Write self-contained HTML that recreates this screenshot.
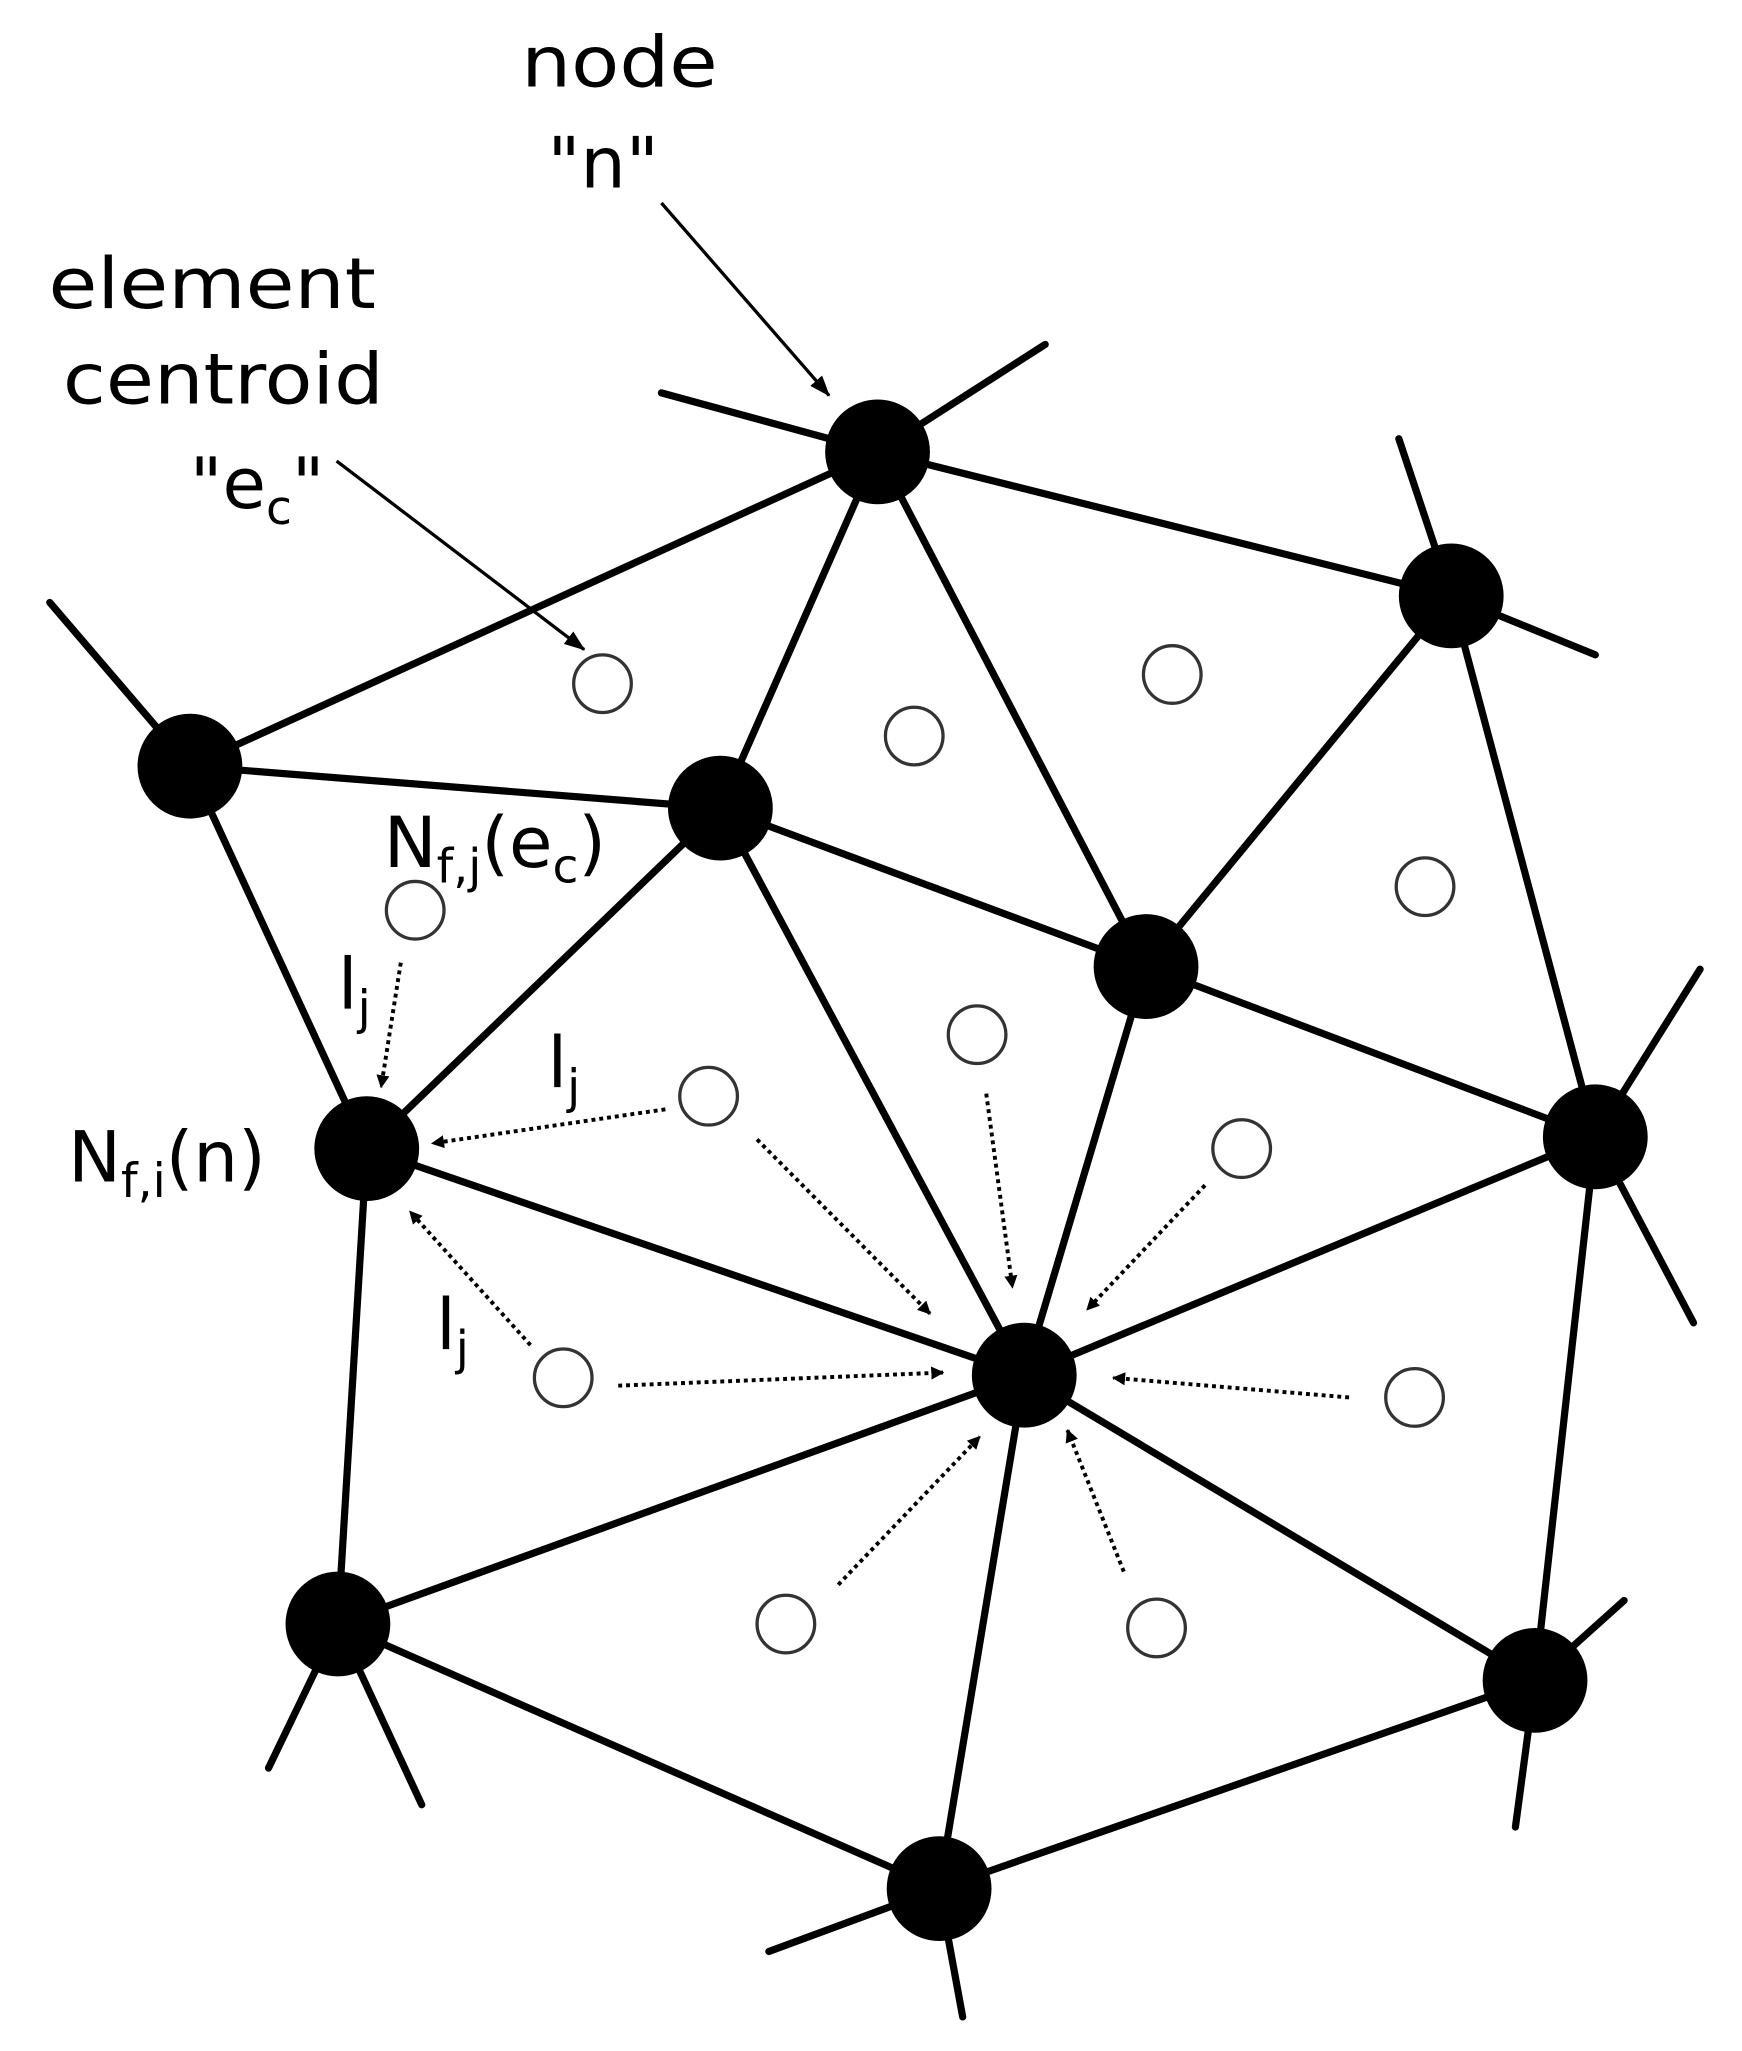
<!DOCTYPE html>
<html><head><style>html,body{margin:0;padding:0;background:#fff}svg{display:block}</style></head><body>
<svg width="1742" height="2051" viewBox="0 0 1330 1566" preserveAspectRatio="none" xmlns="http://www.w3.org/2000/svg" font-family="'DejaVu Sans','Liberation Sans',sans-serif" fill="#000">
<defs>
<marker id="a" markerWidth="10" markerHeight="10" refX="9" refY="5" orient="auto" markerUnits="userSpaceOnUse"><path d="M0,0 L10,5 L0,10 z" fill="#000"/></marker>
<marker id="b" markerWidth="16" markerHeight="12" refX="15" refY="6" orient="auto" markerUnits="userSpaceOnUse"><path d="M0,0 L16,6 L0,12 z" fill="#000"/></marker>
</defs>
<g stroke="#000" stroke-width="5.5" stroke-linecap="round">
<line x1="145" y1="585" x2="670" y2="345"/>
<line x1="670" y1="345" x2="550" y2="617"/>
<line x1="670" y1="345" x2="875" y2="738"/>
<line x1="670" y1="345" x2="1108" y2="455"/>
<line x1="145" y1="585" x2="550" y2="617"/>
<line x1="145" y1="585" x2="280" y2="877"/>
<line x1="550" y1="617" x2="280" y2="877"/>
<line x1="550" y1="617" x2="782" y2="1050"/>
<line x1="550" y1="617" x2="875" y2="738"/>
<line x1="875" y1="738" x2="1108" y2="455"/>
<line x1="875" y1="738" x2="782" y2="1050"/>
<line x1="875" y1="738" x2="1218" y2="868"/>
<line x1="1108" y1="455" x2="1218" y2="868"/>
<line x1="280" y1="877" x2="782" y2="1050"/>
<line x1="280" y1="877" x2="258" y2="1240"/>
<line x1="258" y1="1240" x2="782" y2="1050"/>
<line x1="782" y1="1050" x2="1218" y2="868"/>
<line x1="782" y1="1050" x2="1172" y2="1283"/>
<line x1="782" y1="1050" x2="717" y2="1442"/>
<line x1="1218" y1="868" x2="1172" y2="1283"/>
<line x1="258" y1="1240" x2="717" y2="1442"/>
<line x1="717" y1="1442" x2="1172" y2="1283"/>
<line x1="505" y1="300" x2="670" y2="345"/>
<line x1="670" y1="345" x2="798" y2="263"/>
<line x1="1068" y1="335" x2="1108" y2="455"/>
<line x1="1108" y1="455" x2="1218" y2="500"/>
<line x1="38" y1="460" x2="145" y2="585"/>
<line x1="1298" y1="740" x2="1218" y2="868"/>
<line x1="1218" y1="868" x2="1293" y2="1010"/>
<line x1="258" y1="1240" x2="205" y2="1350"/>
<line x1="258" y1="1240" x2="322" y2="1378"/>
<line x1="1172" y1="1283" x2="1240" y2="1222"/>
<line x1="1172" y1="1283" x2="1157" y2="1395"/>
<line x1="717" y1="1442" x2="587" y2="1490"/>
<line x1="717" y1="1442" x2="735" y2="1540"/>
</g>
<g>
<circle cx="670" cy="345" r="40"/><circle cx="1108" cy="455" r="40"/><circle cx="145" cy="585" r="40"/>
<circle cx="550" cy="617" r="40"/><circle cx="875" cy="738" r="40"/><circle cx="1218" cy="868" r="40"/>
<circle cx="280" cy="877" r="40"/><circle cx="782" cy="1050" r="40"/><circle cx="258" cy="1240" r="40"/>
<circle cx="1172" cy="1283" r="40"/><circle cx="717" cy="1442" r="40"/>
</g>
<g fill="#fff" stroke="#333" stroke-width="2.5">
<circle cx="460" cy="522" r="22"/><circle cx="698" cy="562" r="22"/><circle cx="895" cy="515" r="22"/>
<circle cx="1088" cy="677" r="22"/><circle cx="317" cy="695" r="22"/><circle cx="746" cy="790" r="22"/>
<circle cx="541" cy="837" r="22"/><circle cx="948" cy="877" r="22"/><circle cx="430" cy="1052" r="22"/>
<circle cx="1080" cy="1067" r="22"/><circle cx="600" cy="1240" r="22"/><circle cx="883" cy="1243" r="22"/>
</g>
<g stroke="#000" stroke-width="3" stroke-dasharray="3,3" marker-end="url(#a)">
<line x1="306" y1="735" x2="291" y2="830"/>
<line x1="508" y1="847" x2="330" y2="873"/>
<line x1="405" y1="1027" x2="313" y2="925"/>
<line x1="578" y1="870" x2="710" y2="1003"/>
<line x1="472" y1="1058" x2="720" y2="1048"/>
<line x1="753" y1="835" x2="773" y2="983"/>
<line x1="920" y1="905" x2="830" y2="1000"/>
<line x1="1030" y1="1067" x2="850" y2="1052"/>
<line x1="640" y1="1210" x2="748" y2="1097"/>
<line x1="858" y1="1200" x2="815" y2="1092"/>
</g>
<g stroke="#000" stroke-width="2.5" marker-end="url(#b)">
<line x1="505" y1="155" x2="633" y2="302"/>
<line x1="257" y1="352" x2="446" y2="496"/>
</g>
<g font-size="54">
<text x="398" y="66" textLength="150" lengthAdjust="spacingAndGlyphs">node</text>
<text x="418" y="143" textLength="85" lengthAdjust="spacingAndGlyphs">"n"</text>
<text x="37" y="235" textLength="250" lengthAdjust="spacingAndGlyphs">element</text>
<text x="48" y="308" textLength="245" lengthAdjust="spacingAndGlyphs">centroid</text>
<text x="145" y="388">"e<tspan font-size="36" dy="12">c</tspan><tspan dy="-12">"</tspan></text>
<text x="293" y="662">N<tspan font-size="36" dy="12">f,j</tspan><tspan dy="-12">(e</tspan><tspan font-size="36" dy="12">c</tspan><tspan dy="-12">)</tspan></text>
<text x="52" y="902">N<tspan font-size="36" dy="12">f,i</tspan><tspan dy="-12">(n)</tspan></text>
<text x="258" y="770">l<tspan font-size="36" dy="12">j</tspan></text>
<text x="418" y="830">l<tspan font-size="36" dy="12">j</tspan></text>
<text x="333" y="1030">l<tspan font-size="36" dy="12">j</tspan></text>
</g>
</svg>
</body></html>
